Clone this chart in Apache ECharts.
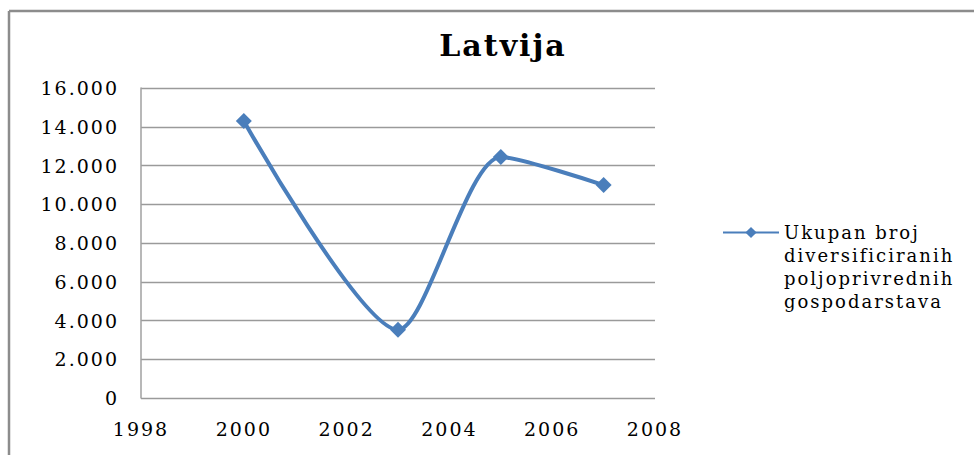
<!DOCTYPE html>
<html>
<head>
<meta charset="utf-8">
<script src="https://cdn.jsdelivr.net/npm/echarts@6/dist/echarts.min.js"></script>
<style>
  html, body { margin: 0; padding: 0; background: #fff; }
  #main { width: 974px; height: 455px; }
  /* tekst na originalu je razvucen u sirinu */
  #main svg text { letter-spacing: 2px; }
</style>
</head>
<body>
<div id="main"></div>
<script>
// podaci ocitani s grafa
const years = [2000, 2003, 2005, 2007]
const values = [14300, 3520, 12440, 10990]
const seriesName = 'Ukupan broj\ndiversificiranih\npoljoprivrednih\ngospodarstava'

const serif = 'DejaVu Serif, serif'
const blue = '#4a7ebb'

let chart = echarts.init(document.getElementById('main'), null, { renderer: 'svg' })

let option = {
  animation: false,
  title: {
    text: 'Latvija',
    left: 498,
    textAlign: 'center',
    top: 25,
    textStyle: { fontFamily: serif, fontSize: 30, fontWeight: 'bold', color: '#000' }
  },
  grid: { left: 141, right: 319, top: 88, bottom: 57, containLabel: false },
  legend: {
    left: 722,
    top: 152,
    padding: 0,
    orient: 'vertical',
    itemWidth: 56,
    itemHeight: 14,
    itemGap: 0,
    // prazni redovi gore da prvi red teksta stoji uz znak legende
    formatter: name => '\n\n\n' + name,
    textStyle: { fontFamily: serif, fontSize: 18, color: '#000', lineHeight: 23 },
    data: [{ name: seriesName }]
  },
  xAxis: {
    type: 'value',
    min: 1998,
    max: 2008,
    interval: 2,
    axisLine: { show: false },
    axisTick: { show: false },
    splitLine: { show: false },
    axisLabel: {
      margin: 21,
      fontFamily: serif,
      fontSize: 19,
      color: '#000',
      formatter: v => String(v)
    }
  },
  yAxis: {
    type: 'value',
    min: 0,
    max: 16000,
    interval: 2000,
    axisLine: { show: true, lineStyle: { color: '#a0a0a0', width: 1.5 } },
    axisTick: { show: false },
    splitLine: { lineStyle: { color: '#9a9a9a', width: 1.3 } },
    axisLabel: {
      margin: 22,
      fontFamily: serif,
      fontSize: 19,
      color: '#000',
      formatter: v => v === 0 ? '0' : (v / 1000).toFixed(3)
    }
  },
  series: [{
    name: seriesName,
    type: 'line',
    smooth: 0.25,
    symbol: 'diamond',
    symbolSize: 16,
    data: years.map((y, i) => [y, values[i]]),
    lineStyle: { color: blue, width: 4 },
    itemStyle: { color: blue }
  }],
  graphic: [
    { type: 'line', shape: { x1: 9, y1: 11, x2: 974, y2: 11 }, style: { stroke: '#8c8c8c', lineWidth: 2.5 } },
    { type: 'line', shape: { x1: 9, y1: 11, x2: 9, y2: 455 }, style: { stroke: '#8c8c8c', lineWidth: 2.5 } }
  ]
}

chart.setOption(option)
</script>
</body>
</html>
